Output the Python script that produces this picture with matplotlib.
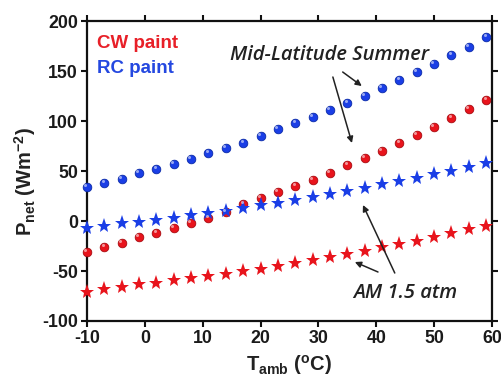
import matplotlib
matplotlib.use("Agg")
import matplotlib.pyplot as plt
import matplotlib.transforms as mtransforms
import numpy as np

plt.rcParams['font.family'] = ['Liberation Sans', 'DejaVu Sans']
plt.rcParams['mathtext.fontset'] = 'custom'
plt.rcParams['mathtext.rm'] = 'Liberation Sans:bold'
plt.rcParams['mathtext.it'] = 'Liberation Sans:bold'
plt.rcParams['mathtext.bf'] = 'Liberation Sans:bold'

# ---- data ----
t_amb = [-10, -7, -4, -1, 2, 5, 8, 11, 14, 17, 20, 23, 26, 29, 32, 35, 38, 41, 44, 47, 50, 53, 56, 59]
rc_midlat = [34, 38, 42, 48, 52, 57, 62, 68, 73, 78, 85, 92, 98, 104, 111, 118, 125, 133, 141, 149, 157, 166, 174, 184]
cw_midlat = [-31, -26, -22, -16, -12, -7, -2, 3, 9, 17, 23, 29, 35, 41, 48, 56, 63, 70, 78, 86, 94, 103, 112, 121]
rc_am15 = [-7, -5, -2, -1, 1, 3, 6, 8, 10, 13, 16, 18, 21, 24, 27, 30, 33, 37, 40, 43, 47, 50, 54, 58]
cw_am15 = [-71, -68, -66, -63, -62, -59, -57, -55, -53, -50, -48, -45, -42, -39, -36, -33, -30, -26, -23, -20, -16, -12, -8, -5]

xticks = [-10, 0, 10, 20, 30, 40, 50, 60]
yticks = [-100, -50, 0, 50, 100, 150, 200]

RED = '#e8141c'
BLUE = '#1a3ee6'

fig = plt.figure(figsize=(5.02, 3.78), dpi=100)
ax = fig.add_axes([0.1733, 0.1508, 0.8067, 0.7936])

def sphere(x, y, color, dark):
    ax.plot(x, y, 'o', ms=6.2, color=color, mec=dark, mew=0.6, zorder=3, clip_on=False)
    hl = mtransforms.offset_copy(ax.transData, fig=fig, x=-1.2, y=1.2, units='points')
    ax.plot(x, y, 'o', ms=2.2, color='white', alpha=0.55, mew=0, zorder=4,
            transform=hl, clip_on=False)

sphere(t_amb, rc_midlat, BLUE, '#0a2aa8')
sphere(t_amb, cw_midlat, RED, '#a80a10')
ax.plot(t_amb, rc_am15, '*', ms=11, color=BLUE, mew=0, zorder=3, clip_on=False)
ax.plot(t_amb, cw_am15, '*', ms=11, color=RED, mew=0, zorder=3, clip_on=False)

ax.set_xlim(-10, 60)
ax.set_ylim(-100, 200)
ax.set_xticks(xticks)
ax.set_yticks(yticks)
ax.set_xticklabels([str(v) for v in xticks], fontsize=12.8, fontweight='bold', color='#1a1a1a')
ax.set_yticklabels([str(v) for v in yticks], fontsize=12.8, fontweight='bold', color='#1a1a1a')
ax.tick_params(which='both', direction='out', length=4.5, width=1.5,
               top=True, right=True, labeltop=False, labelright=False, pad=2, color='#111111')
for s in ax.spines.values():
    s.set_linewidth(1.6)
    s.set_color('#111111')

# labels
ax.text(-8.3, 178, 'CW paint', color='#e82028', fontsize=13.5, fontweight='bold', va='center', ha='left')
ax.text(-8.3, 153, 'RC paint', color='#2448e0', fontsize=13.5, fontweight='bold', va='center', ha='left')
ax.text(32.0, 166, 'Mid-Latitude Summer', fontsize=14.5, fontstyle='italic', fontweight='semibold',
        va='center', ha='center', color='#222222', family=['Open Sans', 'DejaVu Sans'])
ax.text(45, -72, 'AM 1.5 atm', fontsize=14.5, fontstyle='italic', fontweight='semibold',
        va='center', ha='center', color='#222222', family=['Open Sans', 'DejaVu Sans'])

ap = dict(arrowstyle='-|>', color='#222222', lw=1.1, mutation_scale=9, shrinkA=0, shrinkB=0)
ax.annotate('', xy=(37.5, 135), xytext=(34.2, 149), arrowprops=ap)
ax.annotate('', xy=(35.8, 78), xytext=(32.5, 144), arrowprops=ap)
ax.annotate('', xy=(37.7, 16), xytext=(43.2, -52), arrowprops=ap)
ax.annotate('', xy=(36.3, -41), xytext=(40.3, -51), arrowprops=ap)

fig.text(0.05, 0.52, r'$\mathregular{P_{net}}$ $\mathregular{(Wm^{-2})}$', rotation=90,
         fontsize=14.5, fontweight='bold', ha='center', va='center', color='#222222')
fig.text(0.576, 0.035, r'$\mathregular{T_{amb}}$ $\mathregular{(^{o}C)}$',
         fontsize=14.5, fontweight='bold', ha='center', va='center', color='#222222')

fig.savefig('out.png', dpi=100)
